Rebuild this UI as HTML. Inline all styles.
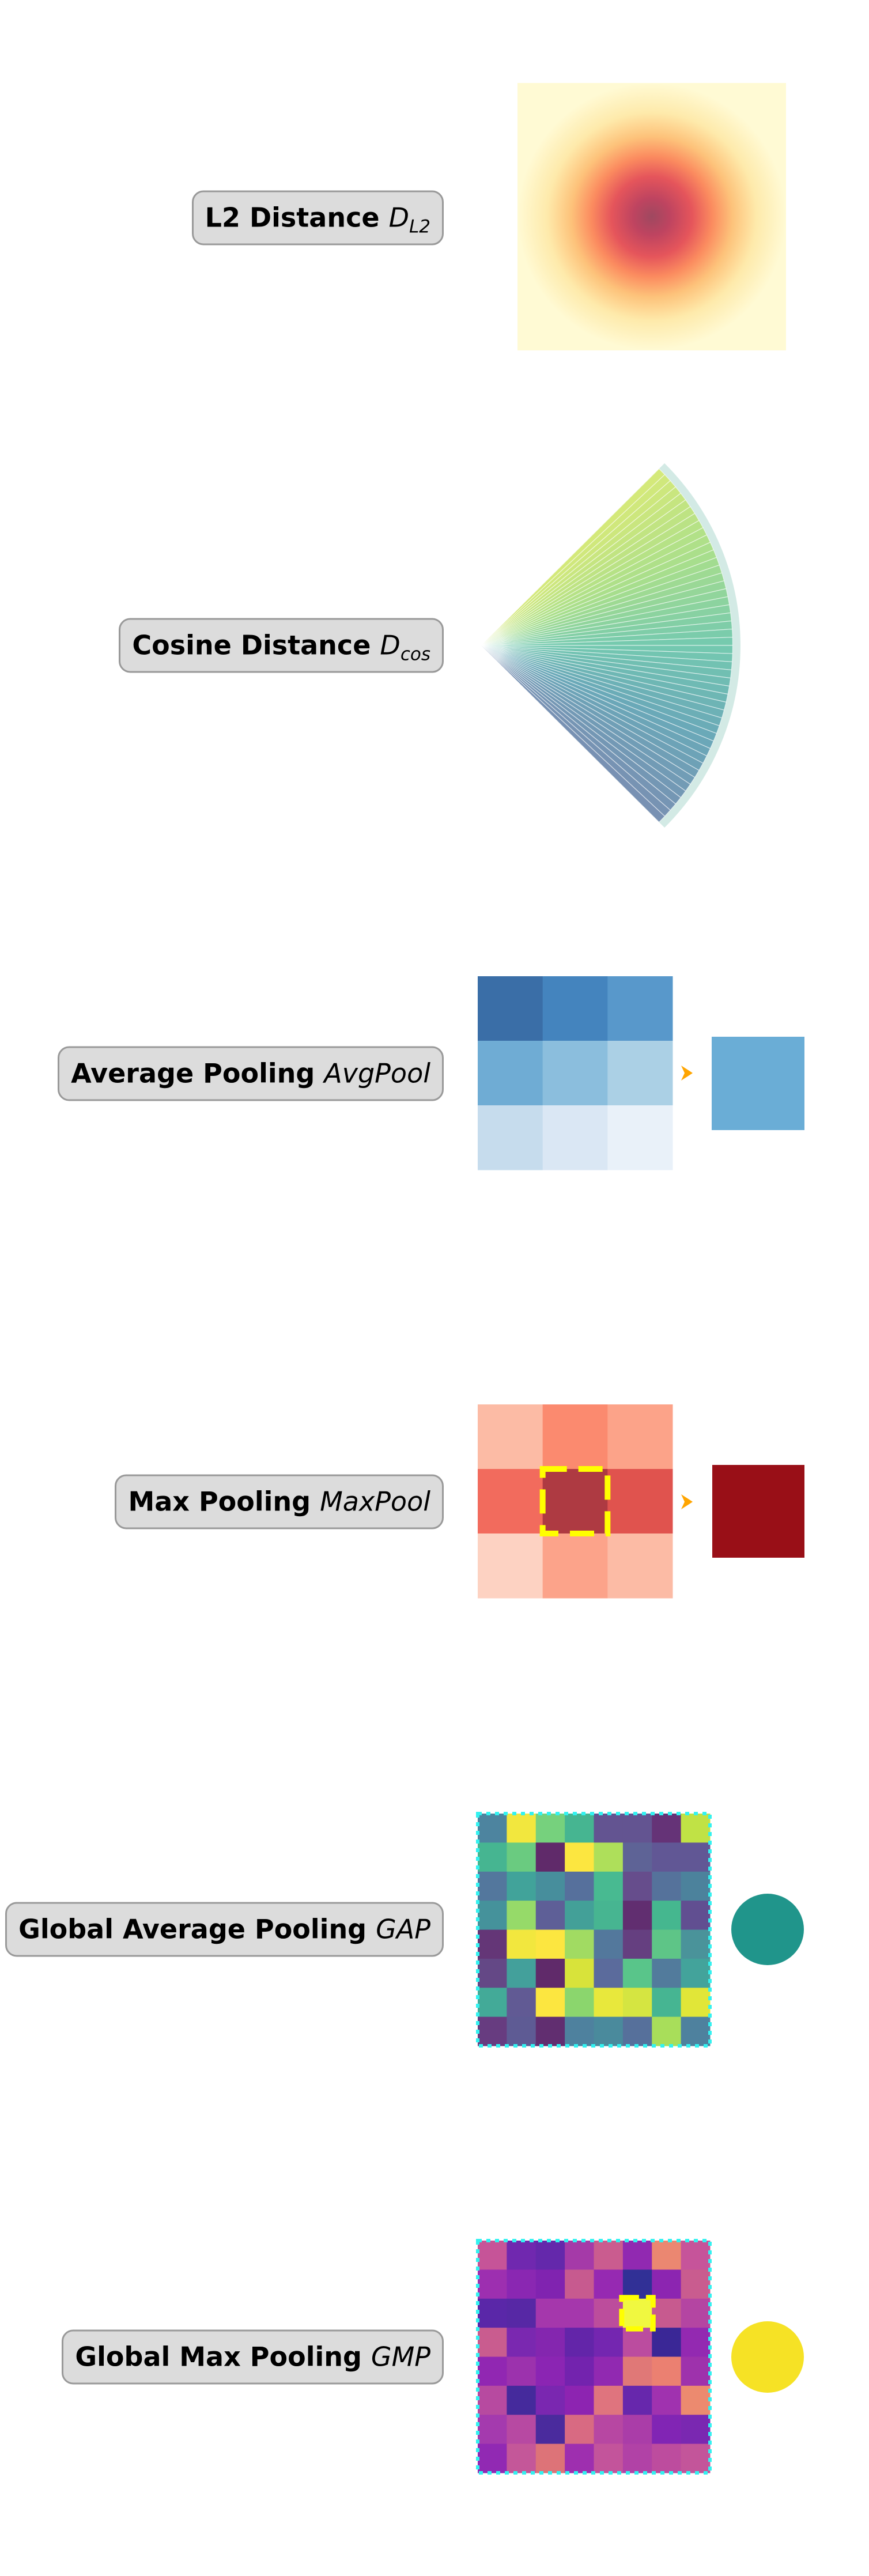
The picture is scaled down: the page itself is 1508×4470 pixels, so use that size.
<!DOCTYPE html>
<html><head><meta charset="utf-8">
<style>
html,body{margin:0;padding:0;background:#fff;}
#wrap{position:relative;width:1508px;height:4470px;overflow:hidden;background:#fff;}
svg{position:absolute;left:0;top:0;}
.lbl{position:absolute;right:738px;height:89px;line-height:89px;padding:0 20px;background:#dcdcdc;border:3px solid #999;border-radius:20px;font-family:"DejaVu Sans","Liberation Sans",sans-serif;font-weight:bold;font-size:46px;white-space:nowrap;color:#000;transform:translateY(-50%);}
.lbl i{font-weight:normal;font-style:italic;}
.lbl sub{font-size:31px;vertical-align:-10px;line-height:0;}
</style></head>
<body>
<div id="wrap">
<div class="lbl" style="top:378px">L2 Distance <i>D<sub>L2</sub></i></div>
<div class="lbl" style="top:1120px">Cosine Distance <i>D<sub>cos</sub></i></div>
<div class="lbl" style="top:1863px">Average Pooling <i>AvgPool</i></div>
<div class="lbl" style="top:2606px">Max Pooling <i>MaxPool</i></div>
<div class="lbl" style="top:3348px">Global Average Pooling <i>GAP</i></div>
<div class="lbl" style="top:4090px">Global Max Pooling <i>GMP</i></div>
<svg id="svg" width="1508" height="4470" xmlns="http://www.w3.org/2000/svg">
<defs>
<radialGradient id="l2g" cx="0.5" cy="0.5" r="0.5">
<stop offset="0" stop-color="#9f4860"/>
<stop offset="0.14" stop-color="#bf4460"/>
<stop offset="0.3" stop-color="#e5555b"/>
<stop offset="0.45" stop-color="#fb8b5f"/>
<stop offset="0.6" stop-color="#fdc27a"/>
<stop offset="0.78" stop-color="#feeaab"/>
<stop offset="1" stop-color="#fffad4"/>
</radialGradient>
</defs>
<rect x="898" y="144" width="466" height="464" fill="url(#l2g)"/>
<g id="fan"></g>
<g id="avg"></g>
<g id="max"></g>
<g id="gap"></g>
<g id="gmp"></g>
</svg>
</div>
<script>
// ---- data ----
const fanColors = ["#d4e97a","#a8de8c","#74c9b0","#6aa8b8","#7891b3"];
const fanSlices = 48;
const avgCells = [["#3a6ea7","#4484be","#5898cb"],["#6facd4","#8bbedd","#abd0e5"],["#c6dced","#dae7f4","#e9f1f9"]];
const avgOutput = "#6aadd6";
const maxCells = [["#fcbba5","#fb8a6f","#fca389"],["#f26b5d","#ae3a42","#e0534e"],["#fdd2c2","#fca38a","#fcbba5"]];
const maxOutput = "#990f17";
const maxIndex = [1,1];
const gapCells = [
["#4d849f","#f2e73e","#76d17d","#46b591","#635491","#635491","#653377","#c0e245"],
["#46b591","#6acb80","#602a6a","#fce640","#aedf5a","#5e6396","#615795","#615795"],
["#53779d","#41a39a","#478e9c","#56709c","#48ba91","#664d8c","#55729b","#4c829c"],
["#45929b","#96da69","#5e5f97","#43a098","#47b591","#612e70","#45b78f","#614f91"],
["#643677","#f2e73e","#fce640","#a1db62","#53789c","#653f80","#5ec587","#4a939a"],
["#644886","#43a09b","#602a6a","#d8e33a","#5b6b9c","#59c58a","#527b9c","#43a39b"],
["#43aa98","#615a94","#fce640","#8bd66d","#e8e83c","#d5e541","#46b592","#e1e638"],
["#673c80","#5e5b94","#612e70","#4e819e","#4a8a9c","#56709b","#a8de5a","#4e819e"]];
const gapOutput = "#20958b";
const gmpCells = [
["#c65498","#7028af","#6428ab","#a53aa8","#ca5c8f","#9129b1","#eb8771","#c6549a"],
["#9d2fb0","#8a27b2","#8023b0","#c75a8f","#9629b2","#313096","#8c25b1","#c95c8f"],
["#5a27a8","#5728a5","#a537ac","#a537ac","#bc4d9c","#f0f840","#c75a8f","#b445a2"],
["#c95c8f","#7a28b0","#8426af","#6325a9","#7426b0","#bb4c9f","#3a2796","#9329b1"],
["#9127b2","#9c32ad","#8b25b3","#7323ae","#9129b1","#e07877","#eb8071","#9e32ac"],
["#b74aa0","#452a9c","#7a27b0","#8d24b1","#df747e","#6727ac","#a032af","#ec8a6f"],
["#a43aae","#b749a2","#4a2b9d","#d86a82","#b747a2","#aa3da8","#8125b4","#7a28b1"],
["#9129b3","#c45799","#dd7378","#9e2faf","#c3549b","#b142a6","#bd4c9e","#c3559a"]];
const gmpOutput = "#f6e225";
const gmpMaxIndex = [2,5];

const NS="http://www.w3.org/2000/svg";
function mk(tag, attrs, parent){const e=document.createElementNS(NS,tag);for(const k in attrs)e.setAttribute(k,attrs[k]);parent.appendChild(e);return e;}
function hex2rgb(h){return [1,3,5].map(i=>parseInt(h.substr(i,2),16));}
function lerpColor(t){const n=fanColors.length-1;const i=Math.min(n-1,Math.floor(t*n));const f=t*n-i;const a=hex2rgb(fanColors[i]),b=hex2rgb(fanColors[i+1]);return "rgb("+a.map((v,k)=>Math.round(v+(b[k]-v)*f)).join(",")+")";}

// ---- fan (cosine) ----
(function(){
const g=document.getElementById('fan');
const cx=835, cy=1120, rx=450, ry=447, a0=-Math.PI/4, a1=Math.PI/4;
const pt=(a,s)=>[cx+rx*s*Math.cos(a), cy+ry*s*Math.sin(a)];
let d="M"+cx+","+cy;
for(let k=0;k<=60;k++){const p=pt(a0+(a1-a0)*k/60,1);d+=" L"+p[0].toFixed(1)+","+p[1].toFixed(1);}
const band=mk('path',{d:d+"Z",fill:"#b5dcd3",opacity:"0.6"},g);


for(let i=0;i<fanSlices;i++){
  const s0=a0+(a1-a0)*i/fanSlices, s1=a0+(a1-a0)*(i+1)/fanSlices;
  const p0=pt(s0,0.97), p1=pt(s1,0.97);
  const e=mk('path',{d:`M${cx},${cy} L${p0[0].toFixed(1)},${p0[1].toFixed(1)} L${p1[0].toFixed(1)},${p1[1].toFixed(1)} Z`,fill:lerpColor(i/(fanSlices-1)),stroke:"#ffffff","stroke-width":"1.2","stroke-opacity":"0.6"},g);
  
  
}
})();

function arrow(g,x,y){
  const e=mk('path',{d:`M${x},${y-13} L${x+14},${y-4} L${x+20},${y} L${x+14},${y+4} L${x},${y+13} L${x+6},${y} Z`,fill:"#ffa500"},g);
  
  
}

function smallGrid(gid,cells,x0,y0,w,h,name){
  const g=document.getElementById(gid);
  const rows=cells.length, cols=cells[0].length, cw=w/cols, ch=h/rows;
  cells.forEach((row,r)=>row.forEach((c,k)=>{
    const e=mk('rect',{x:x0+k*cw,y:y0+r*ch,width:cw+0.5,height:ch+0.5,fill:c},g);
    
    
  }));
  return {g,cw,ch};
}

// ---- average pooling ----
(function(){
const s=smallGrid('avg',avgCells,829,1694,338,336,'avgpool-input');
arrow(s.g,1182,1862);
const o=mk('rect',{x:1235,y:1799,width:161,height:162,fill:avgOutput},s.g);


})();

// ---- max pooling ----
(function(){
const x0=829,y0=2437;
const s=smallGrid('max',maxCells,x0,y0,338,336,'maxpool-input');
const hx=x0+maxIndex[1]*s.cw, hy=y0+maxIndex[0]*s.ch;
const hl=mk('rect',{x:hx,y:hy,width:s.cw,height:s.ch,fill:"none",stroke:"#ffff00","stroke-width":"10","stroke-dasharray":"42 20"},s.g);


arrow(s.g,1182,2606);
const o=mk('rect',{x:1236,y:2542,width:160,height:161,fill:maxOutput},s.g);


})();

function bigGrid(gid,cells,x0,y0,size,outColor,cy,name,maxIdx){
  const s=smallGrid(gid,cells,x0,y0,size,size,name+'-input');
  if(maxIdx){
    const hl=mk('rect',{x:x0+maxIdx[1]*s.cw-2,y:y0+maxIdx[0]*s.ch-2,width:s.cw+4,height:s.ch+4,fill:"none",stroke:"#ffff00","stroke-width":"9","stroke-dasharray":"30 12"},s.g);
    
    
  }
  const b=mk('rect',{x:x0,y:y0,width:size,height:size,fill:"none",stroke:"#33f2f0","stroke-width":"6","stroke-dasharray":"7 8"},s.g);
  
  
  const c=mk('ellipse',{cx:1332,cy:cy,rx:63,ry:62,fill:outColor},s.g);
  
  
}
bigGrid('gap',gapCells,829,3147,403,gapOutput,3348,'gap',null);
bigGrid('gmp',gmpCells,829,3888,403,gmpOutput,4090,'gmp',gmpMaxIndex);
</script>
</body></html>
